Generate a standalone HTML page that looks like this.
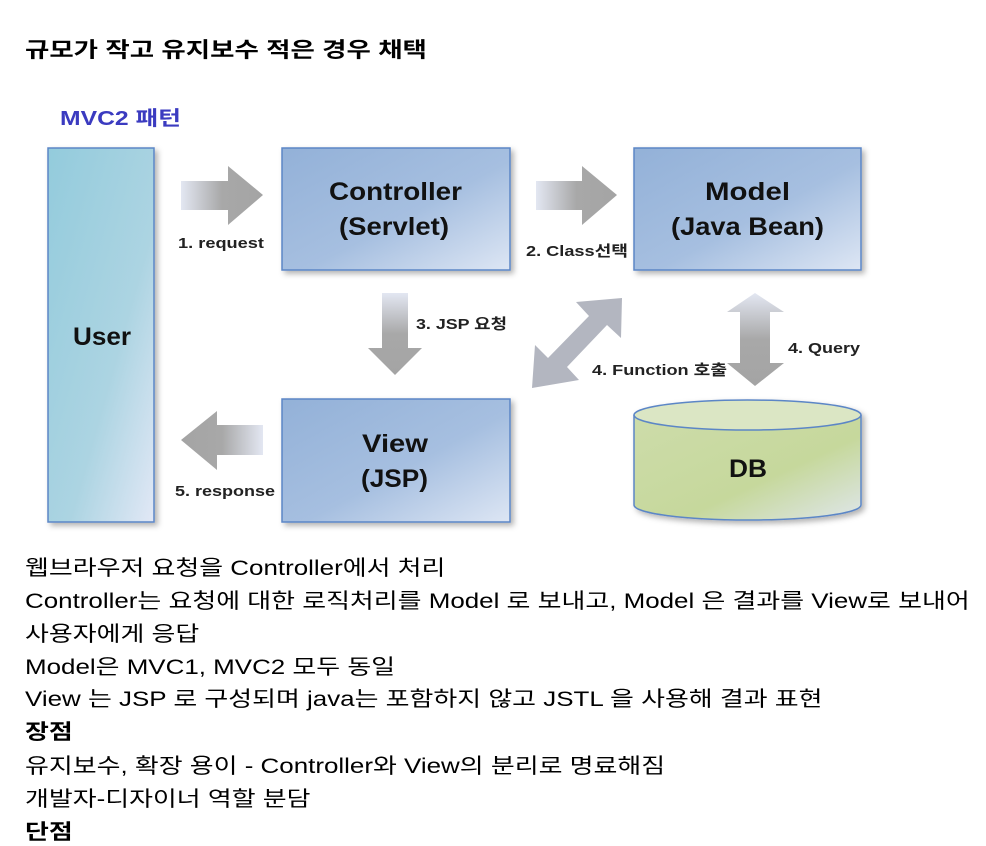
<!DOCTYPE html>
<html><head><meta charset="utf-8"><style>
body{margin:0;background:#fff;width:986px;height:837px;overflow:hidden;font-family:"Liberation Sans","Noto Sans CJK KR",sans-serif;color:#000}
.t{position:absolute;left:25px;font-size:21px;white-space:nowrap;transform:scaleX(1.235);transform-origin:0 0}
</style></head><body>
<div class="t" style="top:34px;font-weight:bold;transform:scaleX(1.26)">규모가 작고 유지보수 적은 경우 채택</div>
<svg style="position:absolute;left:0;top:0" width="986" height="540">
<defs>
<linearGradient id="gb" x1="0" y1="0" x2="1" y2="1"><stop offset="0" stop-color="#93b1d8"/><stop offset="0.55" stop-color="#a6bfe0"/><stop offset="1" stop-color="#dde6f4"/></linearGradient>
<linearGradient id="gu" x1="0" y1="0" x2="1" y2="1"><stop offset="0" stop-color="#93cbdc"/><stop offset="0.6" stop-color="#acd4e2"/><stop offset="1" stop-color="#e2e8f6"/></linearGradient>
<linearGradient id="gd" x1="0" y1="0" x2="1" y2="1"><stop offset="0" stop-color="#cddcaa"/><stop offset="0.6" stop-color="#c6d89c"/><stop offset="1" stop-color="#dfe6ea"/></linearGradient>
<linearGradient id="ah" x1="0" y1="0" x2="1" y2="0"><stop offset="0" stop-color="#e3e7f2"/><stop offset="0.5" stop-color="#a8a8a8"/><stop offset="1" stop-color="#a4a4a4"/></linearGradient>
<linearGradient id="ahl" x1="1" y1="0" x2="0" y2="0"><stop offset="0" stop-color="#e3e7f2"/><stop offset="0.5" stop-color="#a8a8a8"/><stop offset="1" stop-color="#a4a4a4"/></linearGradient>
<linearGradient id="av" x1="0" y1="0" x2="0" y2="1"><stop offset="0" stop-color="#e3e7f2"/><stop offset="0.5" stop-color="#a8a8a8"/><stop offset="1" stop-color="#a4a4a4"/></linearGradient>
<filter id="sh"><feDropShadow dx="3" dy="3" stdDeviation="3" flood-color="#000" flood-opacity="0.3"/></filter>
</defs>
<text x="60" y="125" font-size="20" font-weight="bold" fill="#3b3bc0" textLength="121" lengthAdjust="spacingAndGlyphs" font-family="Liberation Sans,Noto Sans CJK KR,sans-serif">MVC2 패턴</text>
<g filter="url(#sh)" stroke="#5b86c6" stroke-width="1.5">
<rect x="48" y="148" width="106" height="374" fill="url(#gu)"/>
<rect x="282" y="148" width="228" height="122" fill="url(#gb)"/>
<rect x="634" y="148" width="227" height="122" fill="url(#gb)"/>
<rect x="282" y="399" width="228" height="123" fill="url(#gb)"/>
<path d="M634 415 L634 505 A113.5 15 0 0 0 861 505 L861 415" fill="url(#gd)"/>
<ellipse cx="747.5" cy="415" rx="113.5" ry="15" fill="#dbe6c4"/>
</g>
<polygon points="181,181 228,181 228,166 263,195 228,225 228,210 181,210" fill="url(#ah)"/>
<polygon points="536,181 582,181 582,166 617,195 582,225 582,210 536,210" fill="url(#ah)"/>
<polygon points="263,425 217,425 217,411 181,440 217,470 217,455 263,455" fill="url(#ahl)"/>
<polygon points="382,293 408,293 408,348 422,348 395,375 368,348 382,348" fill="url(#av)"/>
<polygon points="727,312 755,293 784,312 770,312 770,363 784,363 755,386 727,363 740,363 740,312" fill="url(#av)"/>
<polygon points="622,298 621,338 607,325 567,367 579,380 532,388 535,345 548,358 589,316 576,302" fill="#b3b6c0"/>
<g font-family="Liberation Sans,Noto Sans CJK KR,sans-serif" font-weight="bold" fill="#111" lengthAdjust="spacingAndGlyphs">
<text x="73" y="345" font-size="25" textLength="58" lengthAdjust="spacingAndGlyphs">User</text>
<text x="329" y="200" font-size="25" textLength="133" lengthAdjust="spacingAndGlyphs">Controller</text>
<text x="339" y="235" font-size="25" textLength="110" lengthAdjust="spacingAndGlyphs">(Servlet)</text>
<text x="705" y="200" font-size="25" textLength="85" lengthAdjust="spacingAndGlyphs">Model</text>
<text x="671" y="235" font-size="25" textLength="153" lengthAdjust="spacingAndGlyphs">(Java  Bean)</text>
<text x="362" y="452" font-size="25" textLength="66" lengthAdjust="spacingAndGlyphs">View</text>
<text x="361" y="487" font-size="25" textLength="67" lengthAdjust="spacingAndGlyphs">(JSP)</text>
<text x="729" y="477" font-size="25" textLength="38" lengthAdjust="spacingAndGlyphs">DB</text>
</g>
<g font-family="Liberation Sans,Noto Sans CJK KR,sans-serif" font-size="15" font-weight="bold" fill="#222">
<text x="178" y="248" textLength="86" lengthAdjust="spacingAndGlyphs">1. request</text>
<text x="526" y="256" textLength="102" lengthAdjust="spacingAndGlyphs">2. Class선택</text>
<text x="416" y="329" textLength="91" lengthAdjust="spacingAndGlyphs">3. JSP 요청</text>
<text x="592" y="375" textLength="135" lengthAdjust="spacingAndGlyphs">4. Function 호출</text>
<text x="788" y="353" textLength="72" lengthAdjust="spacingAndGlyphs">4. Query</text>
<text x="175" y="496" textLength="100" lengthAdjust="spacingAndGlyphs">5. response</text>
</g>
</svg>
<div class="t" style="top:552px">웹브라우저 요청을 Controller에서 처리</div>
<div class="t" style="top:585px">Controller는 요청에 대한 로직처리를 Model 로 보내고, Model 은 결과를 View로 보내어</div>
<div class="t" style="top:618px">사용자에게 응답</div>
<div class="t" style="top:651px">Model은 MVC1, MVC2 모두 동일</div>
<div class="t" style="top:683px">View 는 JSP 로 구성되며 java는 포함하지 않고 JSTL 을 사용해 결과 표현</div>
<div class="t" style="top:716px;font-weight:bold">장점</div>
<div class="t" style="top:750px">유지보수, 확장 용이 - Controller와 View의 분리로 명료해짐</div>
<div class="t" style="top:783px">개발자-디자이너 역할 분담</div>
<div class="t" style="top:816px;font-weight:bold">단점</div>
</body></html>
